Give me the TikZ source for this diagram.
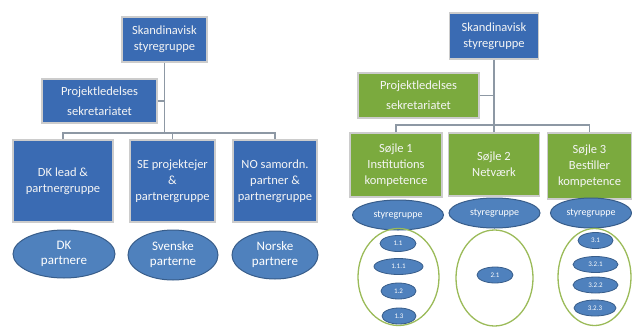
\documentclass[tikz,border=0pt]{standalone}
\usepackage{fontspec}
\setmainfont{Carlito}
\usepackage{tikz}
\usetikzlibrary{shapes}
\definecolor{orgblue}{HTML}{3A6BB3}
\definecolor{orggreen}{HTML}{7BAA3E}
\definecolor{ovalblue}{HTML}{4F81BD}
\definecolor{ovalline}{HTML}{385D8A}
\definecolor{ringgreen}{HTML}{9BBB59}
\definecolor{linkgray}{HTML}{8D98A4}
\tikzset{
	org box/.style={rectangle,draw=gray!40,line width=1.2pt,text=white!92!gray,align=center,inner sep=1pt,
		font=\fontsize{12.5}{16}\selectfont},
	blue box/.style={org box,fill=orgblue},
	green box/.style={org box,fill=orggreen},
	oval/.style={ellipse,draw=ovalline,line width=1pt,fill=ovalblue,text=white,inner sep=0pt,align=center},
	ring/.style={ellipse,draw=ringgreen,line width=1.3pt,inner sep=0pt},
	link/.style={draw=linkgray,line width=1.6pt}
}

\begin{document}
\begin{tikzpicture}[x=1pt,y=-1pt]
	\useasboundingbox (0,0) rectangle (632,327);
	% left chart
	\node [blue box,minimum width=85,minimum height=45] (top) at (164.5,39.5) {Skandinavisk\\styregruppe};
	\node [blue box,minimum width=115,minimum height=44] (proj) at (99.5,101) {Projektledelses\\[4pt]sekretariatet};
	\node [blue box,minimum width=100,minimum height=82] (dk) at (63,181) {DK lead \&\\partnergruppe};
	\node [blue box,minimum width=85,minimum height=82] (se) at (172.5,181) {SE projektejer\\\&\\partnergruppe};
	\node [blue box,minimum width=84,minimum height=82] (no) at (275,181) {NO samordn.\\partner \&\\partnergruppe};
	\coordinate (bar) at (164.5,133);
	\draw [link] (top) -- (bar);
	\draw [link] (proj.east) -- (proj.east -| bar);
	\draw [link] (dk.north) |- (bar) -| (no.north);
	\draw [link] (se.north) -- (se.north |- bar);
	\node [oval,minimum width=102,minimum height=48,font=\fontsize{13}{15}\selectfont] (dkp) at (64,254) {DK\\partnere};
	\node [oval,minimum width=90,minimum height=50,font=\fontsize{13}{15}\selectfont] (sep) at (173,255) {Svenske\\parterne};
	\node [oval,minimum width=86,minimum height=48,font=\fontsize{13}{15}\selectfont] (nop) at (275,255) {Norske\\partnere};
	% right chart
	\node [blue box,minimum width=89,minimum height=46] (top2) at (494,36) {Skandinavisk\\styregruppe};
	\node [green box,minimum width=121,minimum height=45] (proj2) at (418.5,95.5) {Projektledelses\\[4pt]sekretariatet};
	\node [green box,minimum width=92,minimum height=64] (s1) at (396,165) {Søjle 1\\Institutions\\kompetence};
	\node [green box,minimum width=91,minimum height=63] (s2) at (494,164.5) {Søjle 2\\Netværk};
	\node [green box,minimum width=84,minimum height=66] (s3) at (589.5,166) {Søjle 3\\Bestiller\\kompetence};
	\coordinate (bar2) at (494,125);
	\draw [link] (top2) -- (bar2);
	\draw [link] (proj2.east) -- (proj2.east -| bar2);
	\draw [link] (s1.north) |- (bar2) -| (s3.north);
	\draw [link] (s2.north) -- (s2.north |- bar2);
	\node [oval,minimum width=91,minimum height=30,font=\fontsize{10}{12}\selectfont] (g1) at (398,215) {styregruppe};
	\node [oval,minimum width=91,minimum height=30,font=\fontsize{10}{12}\selectfont] (g2) at (494.5,213) {styregruppe};
	\node [oval,minimum width=81,minimum height=30,font=\fontsize{10}{12}\selectfont] (g3) at (591,213) {styregruppe};
	\node [ring,minimum width=81,minimum height=97] (r1) at (398.5,277) {};
	\node [ring,minimum width=77,minimum height=96] (r2) at (494.5,278) {};
	\node [ring,minimum width=73,minimum height=97] (r3) at (594.5,277) {};
	\foreach \name/\x/\y/\w/\txt in {a1/398/243.5/36/1.1, a2/398.5/266.5/49/1.1.1, a3/398.5/291/35/1.2,
		a4/399/316/34/1.3, b1/495/275/36/2.1, c1/595.5/240.5/35/3.1, c2/595.5/264.5/45/3.2.1,
		c3/595.5/285/45/3.2.2, c4/595/308/42/3.2.3}
		\node [oval,line width=0.8pt,minimum width=\w,minimum height=16,font=\fontsize{7}{8}\selectfont] (\name) at (\x,\y) {\txt};
\end{tikzpicture}
\end{document}
